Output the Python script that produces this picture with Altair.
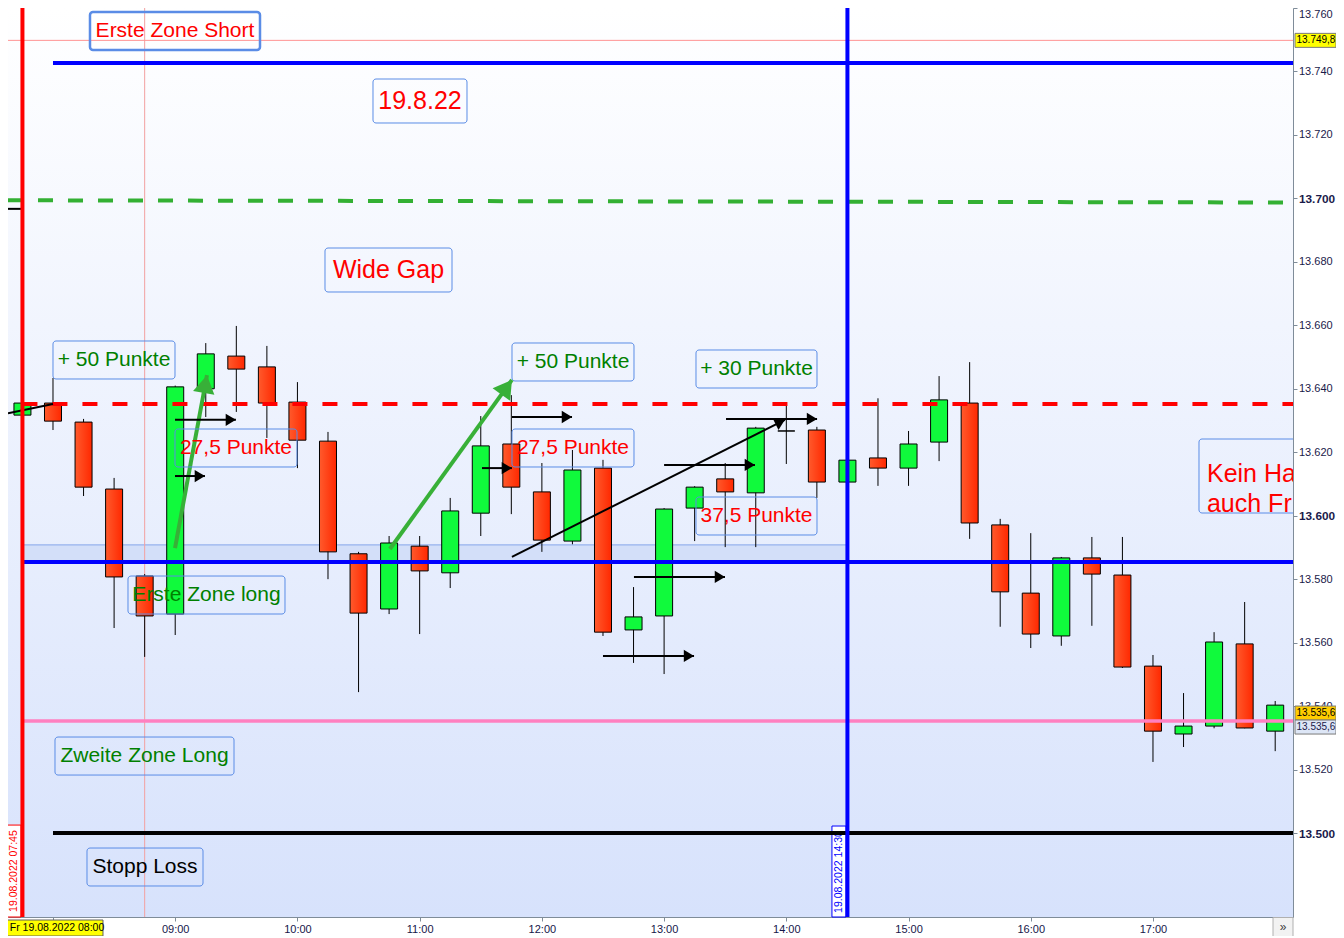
import math
import altair as alt
import pandas as pd

# ---------------- layout / scales ----------------
W, H = 1285, 909
X_DOM = [457.91, 1088.74]          # minutes after midnight (07:37.9 .. 18:08.7)
Y_DOM = [13473.53, 13760.0]        # index points
FONT = "Liberation Sans"

# ---------------- candle data (19.08.2022, 15 min) ----------------
bar_times = ["07:45", "08:00", "08:15", "08:30", "08:45", "09:00", "09:15", "09:30", "09:45",
             "10:00", "10:15", "10:30", "10:45", "11:00", "11:15", "11:30", "11:45",
             "12:00", "12:15", "12:30", "12:45", "13:00", "13:15", "13:30", "13:45",
             "14:00", "14:15", "14:30", "14:45", "15:00", "15:15", "15:30", "15:45",
             "16:00", "16:15", "16:30", "16:45", "17:00", "17:15", "17:30", "17:45", "18:00"]
opens = [13631.7, 13635.5, 13629.5, 13608.4, 13581.0, 13569.0, 13640.0, 13650.3, 13646.9,
         13635.8, 13623.5, 13588.0, 13570.6, 13590.4, 13582.0, 13600.8, 13622.6,
         13607.5, 13592.0, 13615.0, 13564.0, 13568.4, 13602.4, 13611.6, 13607.2,
         13626.7, 13627.0, 13610.6, 13618.2, 13615.0, 13623.2, 13635.5, 13597.1,
         13575.6, 13562.1, 13586.7, 13581.3, 13552.6, 13531.2, 13533.7, 13559.6, 13532.1]
highs = [13637.0, 13643.4, 13630.5, 13611.9, 13581.6, 13641.0, 13654.4, 13659.8, 13653.5,
         13642.1, 13626.4, 13588.6, 13593.6, 13593.6, 13605.6, 13631.4, 13638.0,
         13616.6, 13620.7, 13617.6, 13577.5, 13602.4, 13609.3, 13616.6, 13628.0,
         13635.5, 13628.0, 13618.0, 13637.0, 13626.7, 13644.0, 13648.4, 13599.0,
         13594.5, 13587.0, 13593.3, 13593.3, 13556.1, 13544.1, 13563.3, 13572.8, 13541.6]
lows = [13630.8, 13627.0, 13606.2, 13564.6, 13555.5, 13562.4, 13631.1, 13632.7, 13624.5,
        13615.0, 13580.0, 13544.4, 13569.0, 13562.7, 13577.2, 13593.6, 13600.5,
        13588.6, 13591.0, 13562.1, 13553.6, 13550.1, 13592.0, 13590.1, 13590.1,
        13616.3, 13605.6, 13610.0, 13609.4, 13609.4, 13617.2, 13592.7, 13565.0,
        13558.3, 13559.0, 13565.3, 13552.0, 13522.4, 13527.1, 13533.0, 13533.0, 13525.8]
closes = [13635.5, 13629.8, 13609.0, 13580.7, 13568.4, 13640.6, 13651.0, 13646.2, 13635.5,
          13623.8, 13588.6, 13569.3, 13591.4, 13582.6, 13601.5, 13622.0, 13609.0,
          13592.3, 13614.4, 13563.3, 13568.1, 13602.1, 13609.0, 13607.5, 13627.6,
          13626.7, 13610.6, 13617.5, 13615.0, 13622.6, 13636.5, 13597.7, 13576.0,
          13562.7, 13586.7, 13581.6, 13552.3, 13532.1, 13533.7, 13560.2, 13533.1, 13540.3]

# ---------------- drawn levels ----------------
short_zone_level = 13742.7      # blue, from 08:00
gap_level_left, gap_level_right = 13699.4, 13698.7   # green dashed
red_dash_level = 13635.2        # from 07:45
long_zone_level = 13585.4       # blue, from 07:45
long_zone_top = 13590.8         # light band 07:45 - 14:30
second_long_level = 13535.3     # pink
stop_loss_level = 13500.0       # black, from 08:00
high_marker_level = 13749.8     # thin red

# green arrows (start time, start price, end time, end price)
g_x1 = [539.9, 645.4]
g_y1 = [13589.8, 13589.5]
g_x2 = [555.6, 705.3]
g_y2 = [13644.3, 13642.8]
# black arrows
b_x1 = [705.3, 539.9, 539.9, 690.6, 705.3, 810.4, 780.0, 765.2, 750.0]
b_y1 = [13587.0, 13630.2, 13612.5, 13615.0, 13631.1, 13630.5, 13616.0, 13580.7, 13555.8]
b_x2 = [839.3, 569.8, 554.6, 705.3, 734.8, 855.1, 824.6, 809.9, 794.7]
b_y2 = [13630.2, 13630.2, 13612.5, 13615.0, 13631.1, 13630.5, 13616.0, 13580.7, 13555.8]

# text boxes
box_text = ["Erste Zone Short", "19.8.22", "Wide Gap", "+ 50 Punkte", "27,5 Punkte",
            "Erste Zone long", "+ 50 Punkte", "27,5 Punkte", "+ 30 Punkte", "37,5 Punkte",
            "Zweite Zone Long", "Stopp Loss"]
box_left = [498.16, 637.09, 613.53, 480.0, 539.89, 516.82, 705.33, 705.33, 795.66, 795.66, 480.98, 496.69]
box_right = [581.62, 683.24, 675.88, 539.89, 599.78, 593.89, 765.22, 765.22, 855.06, 855.06, 568.86, 553.64]
box_top = [13758.74, 13737.62, 13684.36, 13655.06, 13627.32, 13580.99, 13654.43, 13627.32,
           13652.22, 13605.89, 13530.25, 13495.27]
box_bottom = [13746.76, 13723.76, 13670.50, 13643.08, 13615.35, 13569.02, 13642.45, 13615.35,
              13640.24, 13593.92, 13518.27, 13483.30]
box_color = ["#ff0000", "#ff0000", "#ff0000", "#008000", "#ff0000", "#008000", "#008000",
             "#ff0000", "#008000", "#ff0000", "#008000", "#000000"]
box_font = [21, 25, 25, 21, 21, 21, 21, 21, 21, 21, 21, 21]
box_stroke = [2.5, 1, 1, 1, 1, 1, 1, 1, 1, 1, 1, 1]

# ---------------- helpers ----------------
XS = alt.Scale(domain=X_DOM, nice=False, zero=False, padding=0)
YS = alt.Scale(domain=Y_DOM, nice=False, zero=False, padding=0)
AX_COL = "#7f8c99"
XA = alt.Axis(values=list(range(480, 1021, 60)),
              labelExpr="datum.value == 480 ? '' : (datum.value < 600 ? '0' : '') + floor(datum.value / 60) + ':00'",
              tickSize=4, tickColor=AX_COL, domainColor=AX_COL, labelFont=FONT, labelFontSize=11,
              labelColor="#16164a", labelPadding=2, grid=False, title=None, labelFlush=False,
              labelOverlap=False)
YA = alt.Axis(orient="right", values=list(range(13500, 13761, 20)),
              labelExpr="replace(format(datum.value, ',.0f'), ',', '.')",
              labelFontWeight=alt.condition("datum.value % 100 === 0", alt.value("bold"), alt.value("normal")),
              labelFontSize=alt.condition("datum.value % 100 === 0", alt.value(11.8), alt.value(11)),
              labelBaseline=alt.condition("datum.value >= 13760", alt.value("top"), alt.value("middle")),
              labelColor="#1a1a4a", labelFont=FONT, tickSize=4, tickColor=AX_COL, domainColor=AX_COL,
              labelPadding=1.5, grid=False, title=None, labelFlush=False, labelOverlap=False)


def X(f):
    return alt.X(f"{f}:Q", scale=XS, axis=XA, title=None)


def Y(f):
    return alt.Y(f"{f}:Q", scale=YS, axis=YA, title=None)


def hrule(level, start, color, width, dash=None):
    df = pd.DataFrame({"t": [start], "t2": [X_DOM[1]], "p": [level]})
    kw = dict(color=color, strokeWidth=width)
    if dash:
        kw["strokeDash"] = dash
    return alt.Chart(df).mark_rule(**kw).encode(x=X("t"), x2="t2", y=Y("p"))


def vrule(t, color, width):
    return alt.Chart(pd.DataFrame({"t": [t]})).mark_rule(color=color, strokeWidth=width).encode(x=X("t"))


PX_MIN = W / (X_DOM[1] - X_DOM[0])
PX_PT = H / (Y_DOM[1] - Y_DOM[0])


def arrow_df(x1, y1, x2, y2):
    df = pd.DataFrame({"x1": x1, "y1": y1, "x2": x2, "y2": y2})
    df["ang"] = [
        math.degrees(math.atan2(-(b2 - b1) * PX_PT, (a2 - a1) * PX_MIN)) % 360
        for a1, b1, a2, b2 in zip(df.x1, df.y1, df.x2, df.y2)
    ]
    return df


HEAD = "M0,0L-1,-0.6L-1,0.6Z"

# ---------------- layers ----------------
one = pd.DataFrame({"a": [0]})
bg_grad = alt.LinearGradient(gradient="linear",
                             stops=[alt.GradientStop(color="#ffffff", offset=0),
                                    alt.GradientStop(color="#d7e2fc", offset=1)],
                             x1=0, x2=0, y1=0, y2=1)
background = alt.Chart(one).mark_rect(fill=bg_grad).encode(
    x=alt.value(0), x2=alt.value(W), y=alt.value(0), y2=alt.value(H))

band_df = pd.DataFrame({"t": [465], "t2": [870], "p": [long_zone_level], "p2": [long_zone_top]})
band = alt.Chart(band_df).mark_rect(fill="#cfdcf8", opacity=0.85).encode(
    x=X("t"), x2="t2", y=Y("p"), y2="p2")
band_edge = alt.Chart(band_df).mark_rule(color="#86a6ea", strokeWidth=1).encode(
    x=X("t"), x2="t2", y=Y("p2"))

thin_v = vrule(525, "#f2a0a0", 1)
thin_h = alt.Chart(pd.DataFrame({"p": [high_marker_level]})).mark_rule(
    color="#ff9494", strokeWidth=1).encode(y=Y("p"))

cdf = pd.DataFrame({"time": bar_times, "o": opens, "h": highs, "l": lows, "c": closes})
cdf["t"] = [int(s[:2]) * 60 + int(s[3:]) for s in cdf["time"]]
wicks = alt.Chart(cdf).mark_rule(color="black", strokeWidth=1).encode(x=X("t"), y=Y("l"), y2="h")
red_grad = alt.LinearGradient(gradient="linear",
                              stops=[alt.GradientStop(color="#ff5a2c", offset=0),
                                     alt.GradientStop(color="#ff2800", offset=1)],
                              x1=0, x2=1, y1=0, y2=0)
red_bodies = alt.Chart(cdf).transform_filter("datum.c <= datum.o").mark_bar(
    size=17, fill=red_grad, stroke="black", strokeWidth=1).encode(x=X("t"), y=Y("o"), y2="c")
green_bodies = alt.Chart(cdf).transform_filter("datum.c > datum.o").mark_bar(
    size=17, fill="#10fa3c", stroke="black", strokeWidth=1).encode(x=X("t"), y=Y("o"), y2="c")

short_line = hrule(short_zone_level, 480, "#0000ff", 4)
gap_df = pd.DataFrame({"t": [X_DOM[0]], "t2": [X_DOM[1]], "p": [gap_level_left], "p2": [gap_level_right]})
gap_line = alt.Chart(gap_df).mark_rule(color="#33b033", strokeWidth=4, strokeDash=[15, 15]).encode(
    x=X("t"), x2="t2", y=Y("p"), y2="p2")
red_dash = hrule(red_dash_level, 465, "#ff0000", 4, [15, 15])
long_line = hrule(long_zone_level, 465, "#0000ff", 4)
pink_line = hrule(second_long_level, 465, "#ff80c0", 3.5)

# rotated date labels at the vertical lines
lab_df = pd.DataFrame({"t": [456.4, 862.4], "t2": [464.3, 869.3], "p": [13502.5, 13502.2],
                       "tc": [461.1, 865.9], "pc": [13488.0, 13487.7],
                       "txt": ["19.08.2022 07:45", "19.08.2022 14:30"],
                       "col": ["#ff0000", "#0000ff"]})
lab_box = alt.Chart(lab_df).mark_rect(fill="white", strokeWidth=1).encode(
    x=X("t"), x2="t2", y=Y("p"), y2=alt.value(H), stroke=alt.Color("col:N", scale=None))
lab_txt = alt.Chart(lab_df).mark_text(angle=270, font=FONT, fontSize=10.5, align="center",
                                      baseline="middle").encode(
    x=X("tc"), y=Y("pc"), text="txt:N", color=alt.Color("col:N", scale=None))

stop_line = hrule(stop_loss_level, 480, "#000000", 4)
extra_black = alt.Chart(pd.DataFrame({"t": [X_DOM[0], X_DOM[0]], "t2": [465, 480],
                                      "p": [13696.7, 13632.3], "p2": [13696.7, 13635.2]})).mark_rule(
    color="black", strokeWidth=2).encode(x=X("t"), x2="t2", y=Y("p"), y2="p2")

red_v = vrule(465, "#ff0000", 4)
blue_v = vrule(870, "#0000ff", 4)

gdf = arrow_df(g_x1, g_y1, g_x2, g_y2)
g_shaft = alt.Chart(gdf).mark_rule(color="#38b038", strokeWidth=4).encode(
    x=X("x1"), y=Y("y1"), x2="x2", y2="y2")
g_head = alt.Chart(gdf).mark_point(shape=HEAD, filled=True, size=1300, color="#38b038", opacity=1).encode(
    x=X("x2"), y=Y("y2"), angle=alt.Angle("ang:Q", scale=None))
bdf = arrow_df(b_x1, b_y1, b_x2, b_y2)
b_shaft = alt.Chart(bdf).mark_rule(color="black", strokeWidth=2).encode(
    x=X("x1"), y=Y("y1"), x2="x2", y2="y2")
b_head = alt.Chart(bdf).mark_point(shape=HEAD, filled=True, size=420, color="black", opacity=1).encode(
    x=X("x2"), y=Y("y2"), angle=alt.Angle("ang:Q", scale=None))

tb = pd.DataFrame({"txt": box_text, "x1": box_left, "x2": box_right, "y1": box_top, "y2": box_bottom,
                   "col": box_color, "fs": box_font, "sw": box_stroke})
tb["xc"] = (tb.x1 + tb.x2) / 2
tb["yc"] = (tb.y1 + tb.y2) / 2
t_boxes = alt.Chart(tb).mark_rect(fill="transparent", stroke="#5a8ce6", cornerRadius=3).encode(
    x=X("x1"), x2="x2", y=Y("y1"), y2="y2", strokeWidth=alt.StrokeWidth("sw:Q", scale=None))
t_texts = alt.Chart(tb).mark_text(font=FONT, align="center", baseline="middle").encode(
    x=X("xc"), y=Y("yc"), text="txt:N", color=alt.Color("col:N", scale=None),
    size=alt.Size("fs:Q", scale=None))

kein_df = pd.DataFrame({"x1": [1042.59], "x2": [1100.0], "y1": [13624.17], "y2": [13600.85],
                        "xt": [1046.5], "yt": [13613.1], "txt": ["Kein Ha\nauch Fr"]})
kein_box = alt.Chart(kein_df).mark_rect(fill="transparent", stroke="#5a8ce6", strokeWidth=1,
                                        cornerRadius=3, clip=True).encode(
    x=X("x1"), x2="x2", y=Y("y1"), y2="y2")
kein_txt = alt.Chart(kein_df).mark_text(font=FONT, fontSize=25, color="#ff0000", align="left",
                                        baseline="middle", lineBreak="\n", lineHeight=30,
                                        clip=True).encode(x=X("xt"), y=Y("yt"), text="txt:N")

# price tags on the right axis
tag_layers = []
for level, label, fill, off, tcol in [(high_marker_level, "13.749,8", "#ffff00", 0, "#000000"),
                                      (13535.6, "13.535,6", "#ffcc00", -7, "#000000"),
                                      (13535.6, "13.535,6", "#dde6f6", 7, "#1a1a4a")]:
    df = pd.DataFrame({"p": [level], "txt": [label]})
    tag_layers.append(alt.Chart(df).mark_tick(orient="horizontal", size=41, thickness=14, fill=fill,
                                              stroke="#7a7a7a", strokeWidth=1, opacity=1,
                                              yOffset=off).encode(x=alt.value(W + 22.5), y=Y("p")))
    tag_layers.append(alt.Chart(df).mark_text(font=FONT, fontSize=10, align="left", baseline="middle",
                                              color=tcol, yOffset=off).encode(
        x=alt.value(W + 3.5), y=Y("p"), text="txt:N"))

date_df = pd.DataFrame({"t": [480], "txt": ["Fr 19.08.2022 08:00"]})
date_tag = alt.Chart(date_df).mark_tick(orient="vertical", size=16, thickness=100, fill="#ffff00",
                                        stroke="#606060", strokeWidth=1, opacity=1).encode(
    x=X("t"), y=alt.value(H + 11))
date_txt = alt.Chart(date_df).mark_text(font=FONT, fontSize=10.5, color="black", baseline="middle",
                                        xOffset=4).encode(
    x=X("t"), y=alt.value(H + 11), text="txt:N")
more_df = pd.DataFrame({"txt": ["»"]})
more_tag = alt.Chart(more_df).mark_tick(orient="vertical", size=19, thickness=20, fill="#f2f2f2",
                                        stroke="#b0b0b0", strokeWidth=1, opacity=1).encode(
    x=alt.value(W - 10), y=alt.value(H + 10))
more_txt = alt.Chart(more_df).mark_text(font=FONT, fontSize=12, color="#404040", baseline="middle").encode(
    x=alt.value(W - 10), y=alt.value(H + 10), text="txt:N")

layers = [background, band, band_edge, thin_v, thin_h, wicks, red_bodies, green_bodies,
          short_line, gap_line, red_dash, long_line, pink_line, lab_box, lab_txt, stop_line,
          extra_black, red_v, blue_v, g_shaft, g_head, b_shaft, b_head, t_boxes, t_texts,
          kein_box, kein_txt] + tag_layers + [date_tag, date_txt, more_tag, more_txt]

chart = alt.layer(*layers).properties(
    width=W, height=H,
    autosize=alt.AutoSizeParams(type="none"),
    padding={"left": 0, "top": 0, "right": 43, "bottom": 19},
).configure_view(strokeWidth=0).configure(background="white")

chart.save("out.html", embed_options={"renderer": "svg", "actions": False})
